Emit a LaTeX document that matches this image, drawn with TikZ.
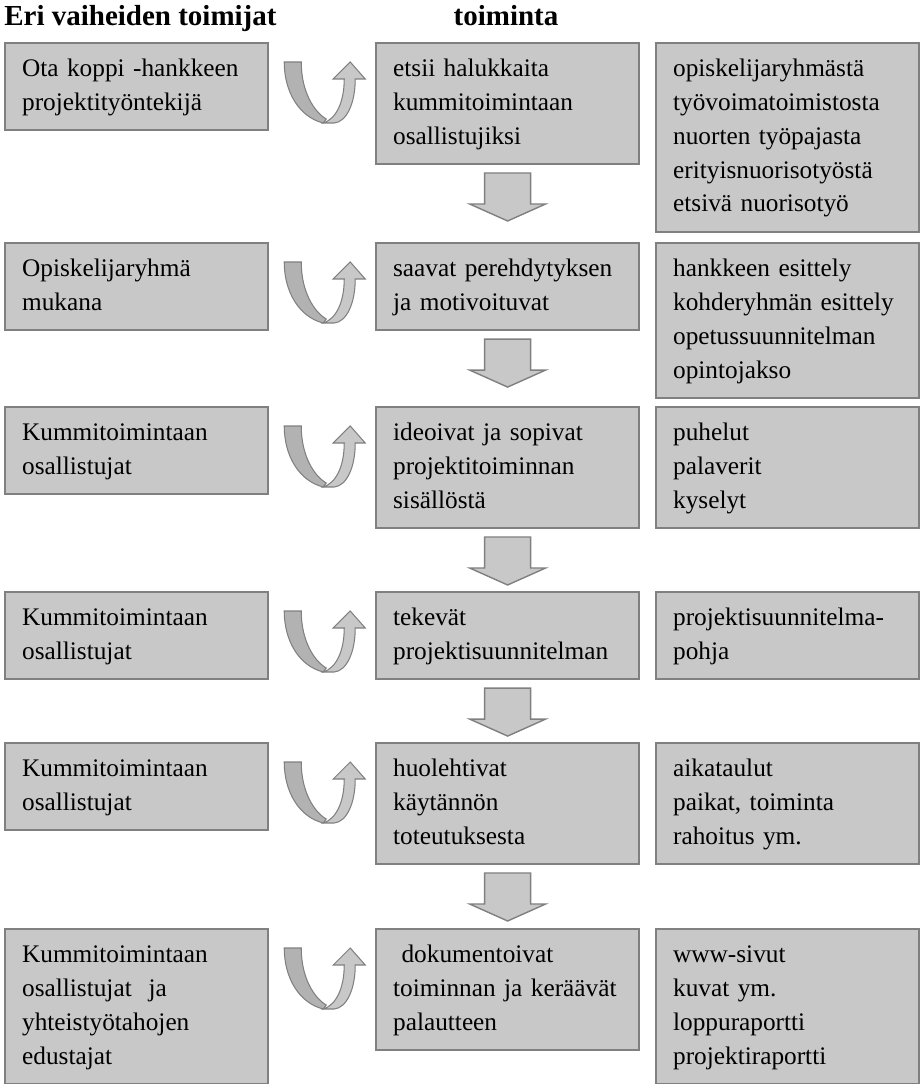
\documentclass[tikz,border=0pt]{standalone}
\usepackage{fontspec}
\setmainfont{Liberation Serif}
\definecolor{boxfill}{RGB}{200,200,200}
\definecolor{boxline}{RGB}{128,128,128}
\definecolor{bandback}{RGB}{178,178,178}
\tikzset{
  box/.style={draw=boxline, fill=boxfill, line width=1.3pt, anchor=north west,
    text width=4.58cm, inner xsep=0.34cm, inner ysep=5.4pt, align=left,
    font=\fontsize{14.4}{19.3}\selectfont,
    execute at begin node=\strut, execute at end node=\strut},
  head/.style={inner sep=0pt, font=\fontsize{16.5}{20}\selectfont\bfseries},
  pics/uarrow/.style={code={
    \draw[fill=bandback, draw=boxline, line width=0.6pt] (0,0) -- (17,0) .. controls (17,30) and (30,50) .. (42,57) -- (39,61) .. controls (15,55) and (0,30) .. (0,0) -- cycle;
    \draw[fill=boxfill, draw=boxline, line width=0.6pt] (39,61) .. controls (52,57) and (60,40) .. (60,17) -- (49,17) -- (66,0) -- (81,17) -- (71,17) .. controls (71,42) and (62,60) .. (50,61) -- cycle;
  }},
  pics/blockdown/.style={code={
    \draw[fill=boxfill, draw=boxline, line width=0.8pt] (-23,8) -- (23,8) -- (23,39) -- (38,39) -- (0,56) -- (-38,39) -- (-23,39) -- cycle;
  }}
}
\begin{document}
\begin{tikzpicture}[x=0.02cm, y=-0.02cm]
\useasboundingbox (0,0) rectangle (919,1084);
% headings
\node[head, anchor=base west] (h1) at (4,26) {Eri vaiheiden toimijat};
\node[head, anchor=base] (h2) at (506,26) {toiminta};
% toimijat
\node[box] (a1) at (4,42) {Ota koppi -hankkeen\\projektityöntekijä};
\node[box] (a2) at (4,242) {Opiskelijaryhmä\\mukana};
\node[box] (a3) at (4,406) {Kummitoimintaan\\osallistujat};
\node[box] (a4) at (4,591) {Kummitoimintaan\\osallistujat};
\node[box] (a5) at (4,742) {Kummitoimintaan\\osallistujat};
\node[box] (a6) at (4,928) {Kummitoimintaan\\osallistujat\ \ ja\\yhteistyötahojen\\edustajat};
% toiminta
\node[box] (b1) at (375,42) {etsii halukkaita\\kummitoimintaan\\osallistujiksi};
\node[box] (b2) at (375,242) {saavat perehdytyksen\\ja motivoituvat};
\node[box] (b3) at (375,406) {ideoivat ja sopivat\\projektitoiminnan\\sisällöstä};
\node[box] (b4) at (375,591) {tekevät\\projektisuunnitelman};
\node[box] (b5) at (375,742) {huolehtivat\\käytännön\\toteutuksesta};
\node[box] (b6) at (375,928) {\ dokumentoivat\\toiminnan ja keräävät\\palautteen};
% keinot
\node[box] (c1) at (655,42) {opiskelijaryhmästä\\työvoimatoimistosta\\nuorten työpajasta\\erityisnuorisotyöstä\\etsivä nuorisotyö};
\node[box] (c2) at (655,242) {hankkeen esittely\\kohderyhmän esittely\\opetussuunnitelman\\opintojakso};
\node[box] (c3) at (655,406) {puhelut\\palaverit\\kyselyt};
\node[box] (c4) at (655,591) {projektisuunnitelma-\\pohja};
\node[box] (c5) at (655,742) {aikataulut\\paikat, toiminta\\rahoitus ym.};
\node[box] (c6) at (655,928) {www-sivut\\kuvat ym.\\loppuraportti\\projektiraportti};
% arrows
\foreach \r in {1,...,6}
    \pic at ([shift={(15,20)}]a\r.north east) {uarrow};
\foreach \r in {1,...,5}
    \pic at (b\r.south) {blockdown};
\end{tikzpicture}
\end{document}
